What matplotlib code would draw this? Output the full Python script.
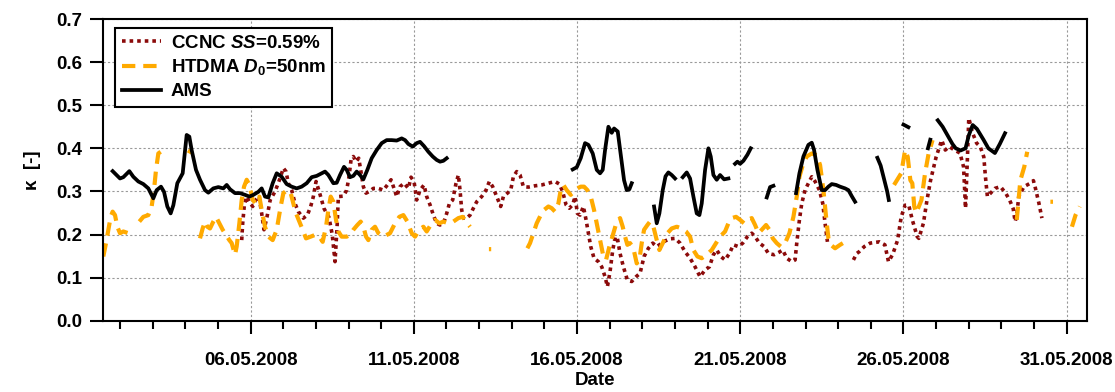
import numpy as np
import pandas as pd
import matplotlib
matplotlib.use("Agg")
import matplotlib.pyplot as plt
import matplotlib.dates as mdates

nan = np.nan

# day of May 2008 (fractional) and kappa values, nan = gap in the record
ccnc_day = [5.727, 5.757, 5.808, 5.88, 5.961, 6.063, 6.155, 6.257, 6.339, 6.41, 6.5, 6.6, 6.75, 6.9,
            7.003, 7.085, 7.156, 7.258, 7.36, 7.462, 7.616, 7.738, 7.84, 7.922, 8.004, 8.1, 8.25, 8.4,
            8.5, 8.586, 8.65, 8.688, 8.841, 8.943, 9.014, 9.076, 9.147, 9.229, 9.311, 9.372, 9.454,
            9.536, 9.638, 9.76, 9.913, 10.067, 10.189, 10.301, 10.393, 10.475, 10.577, 10.7, 10.833,
            10.914, 11.006, 11.088, 11.19, 11.313, 11.394, 11.496, 11.598, 11.7, 11.803, 11.925,
            12.007, 12.089, 12.19, 12.293, 12.364, 12.415, 12.466, 12.518, 12.62, 12.722, 12.824,
            12.926, 13.079, 13.212, 13.314, 13.416, 13.539, 13.661, 13.743, 13.866, 13.968, 14.049,
            14.152, 14.254, 14.356, 14.509, 14.713, 14.917, 15.122, 15.326, 15.459, 15.561, 15.663,
            15.765, 15.867, 15.938, 16.01, 16.092, 16.194, 16.276, 16.347, 16.419, 16.52, 16.653,
            16.756, 16.858, 16.93, 17.011, 17.093, 17.174, 17.236, 17.317, 17.42, 17.542, 17.675,
            17.808, 17.93, 18.053, 18.185, 18.319, 18.441, 18.563, 18.696, 18.849, 19.002, 19.156,
            19.309, 19.462, 19.615, 19.768, 19.922, 20.054, 20.177, 20.279, 20.402, 20.534, 20.667,
            20.79, 20.943, 21.076, 21.218, 21.351, 21.454, 21.586, 21.729, 21.862, 22.035, 22.168,
            22.301, 22.424, 22.577, 22.679, 22.73, 22.812, 22.883, 22.985, 23.087, 23.19, 23.292,
            23.424, 23.527, 23.598, 23.67, 24.0, 24.466, 24.568, 24.64, 24.8, 24.98, 25.26, 25.43,
            25.54, 25.67, 25.82, 25.93, 26.05, 26.16, 26.27, 26.42, 26.47, 26.61, 26.72, 26.83, 27.0,
            27.17, 27.28, 27.4, 27.56, 27.73, 27.84, 27.9, 27.95, 28.0, 28.12, 28.24, 28.35, 28.46,
            28.51, 28.57, 28.8, 28.97, 29.13, 29.25, 29.36, 29.42, 29.47, 29.53, 29.69, 29.86, 29.98,
            30.03, 30.15, 30.24]
ccnc_kappa = [0.187, 0.226, 0.268, 0.288, 0.276, 0.265, 0.280, 0.288, 0.249, 0.211, 0.24, 0.28, 0.30, 0.33,
              0.354, 0.346, 0.319, 0.303, 0.272, 0.253, 0.238, 0.245, 0.265, 0.288, 0.323, 0.30, 0.26, 0.24,
              0.20, 0.137, 0.22, 0.288, 0.289, 0.303, 0.334, 0.373, 0.381, 0.369, 0.377, 0.350, 0.311,
              0.296, 0.300, 0.307, 0.307, 0.303, 0.315, 0.327, 0.307, 0.288, 0.311, 0.319, 0.307,
              0.333, 0.323, 0.280, 0.303, 0.315, 0.288, 0.269, 0.245, 0.226, 0.222, 0.230,
              0.249, 0.272, 0.280, 0.319, 0.338, 0.303, 0.257, 0.238, 0.238, 0.245, 0.261,
              0.276, 0.288, 0.303, 0.323, 0.311, 0.288, 0.265, 0.288, 0.296, 0.303, 0.334,
              0.346, 0.338, 0.311, 0.310, 0.313, 0.315, 0.319, 0.323, 0.317, 0.299, 0.269,
              0.261, 0.269, 0.288, 0.249, 0.245, 0.265, 0.234, 0.203, 0.172, 0.145, 0.137,
              0.125, 0.102, 0.079, 0.114, 0.164, 0.195, 0.191, 0.156, 0.125, 0.094, 0.091,
              0.102, 0.110, 0.149, 0.168, 0.180, 0.172, 0.178, 0.185, 0.190, 0.191, 0.180,
              0.160, 0.145, 0.125, 0.102, 0.118, 0.125, 0.153, 0.164, 0.149, 0.141, 0.156,
              0.176, 0.172, 0.180, 0.195, 0.203, 0.195, 0.180, 0.172, 0.156, 0.153, 0.158,
              0.164, 0.145, 0.137, 0.141, 0.180, 0.234, 0.272, 0.303, 0.319, 0.334, 0.323,
              0.303, 0.272, 0.226, 0.183, nan, 0.141, 0.156, 0.160, 0.172, 0.180, 0.183, 0.176,
              0.137, 0.154, 0.187, 0.241, 0.268, 0.268, 0.234, 0.195, 0.191, 0.226, 0.280, 0.326, 0.380,
              0.419, 0.396, 0.404, 0.396, 0.389, 0.357, 0.261, 0.36, 0.47, 0.435, 0.412, 0.404, 0.380,
              0.334, 0.288, 0.307, 0.311, 0.296, 0.280, 0.26, 0.23, 0.245, 0.288, 0.311, 0.318, 0.325,
              0.311, 0.272, 0.238]

htdma_day = [1.488, 1.57, 1.641, 1.713, 1.774, 1.846, 1.917, 1.999, 2.101, 2.254, 2.305, 2.45, 2.591,
             2.714, 2.867, 2.969, 3.04, 3.102, 3.173, 3.245, 3.306, 3.7, 4.08, 4.2, 4.3, 4.45, 4.531,
             4.603, 4.674, 4.756, 4.858, 4.94, 5.042, 5.144, 5.246, 5.348, 5.42, 5.522, 5.573, 5.655,
             5.727, 5.798, 5.88, 5.961, 6.063, 6.165, 6.268, 6.339, 6.441, 6.543, 6.676, 6.799, 6.921,
             7.003, 7.125, 7.228, 7.309, 7.391, 7.493, 7.595, 7.697, 7.84, 7.973, 8.106, 8.208, 8.31,
             8.382, 8.453, 8.535, 8.616, 8.688, 8.79, 8.943, 9.045, 9.147, 9.27, 9.372, 9.454, 9.536,
             9.607, 9.709, 9.811, 9.913, 10.067, 10.271, 10.424, 10.557, 10.679, 10.802, 10.935,
             11.037, 11.169, 11.292, 11.394, 11.547, 11.65, 11.782, 11.905, 12.058, 12.211, 12.364,
             12.497, 12.599, 12.722, 13.0, 13.30, 13.37, 14.0, 14.478, 14.56, 14.662, 14.764, 14.887,
             14.989, 15.122, 15.224, 15.326, 15.428, 15.5, 15.581, 15.683, 15.806, 15.908, 16.01,
             16.112, 16.214, 16.317, 16.419, 16.52, 16.623, 16.725, 16.807, 16.888, 16.99, 17.113,
             17.216, 17.317, 17.399, 17.471, 17.542, 17.624, 17.726, 17.828, 17.91, 17.981, 18.053,
             18.155, 18.236, 18.339, 18.441, 18.522, 18.645, 18.768, 18.9, 19.054, 19.207, 19.339,
             19.462, 19.564, 19.687, 19.819, 19.972, 20.126, 20.258, 20.381, 20.534, 20.636, 20.739,
             20.871, 20.994, 21.117, 21.218, 21.351, 21.454, 21.556, 21.658, 21.79, 21.893, 21.995,
             22.117, 22.24, 22.372, 22.505, 22.628, 22.73, 22.812, 22.914, 23.036, 23.19, 23.343,
             23.445, 23.547, 23.628, 23.7, 23.772, 23.904, 24.057, 24.21, 25.0, 25.71, 25.93, 26.05,
             26.13, 26.21, 26.27, 26.33, 26.39, 26.55, 26.66, 26.77, 26.89, 28.0, 29.47, 29.58, 29.7,
             29.79, 30.2, 30.5, 30.58, 30.9, 31.16, 31.27, 31.4]
htdma_kappa = [0.149, 0.18, 0.211, 0.241, 0.253, 0.245, 0.218, 0.203, 0.207, 0.203, 0.204, nan, 0.230,
               0.241, 0.245, 0.265, 0.303, 0.350, 0.388, 0.392, 0.381, nan, 0.395, 0.39, nan, 0.191, 0.214,
               0.230, 0.218, 0.214, 0.230, 0.241, 0.226, 0.211, 0.199, 0.187, 0.180, 0.153, 0.172, 0.226,
               0.280, 0.311, 0.327, 0.315, 0.280, 0.272, 0.288, 0.257, 0.218, 0.195, 0.187, 0.211, 0.265,
               0.296, 0.303, 0.296, 0.272, 0.249, 0.230, 0.211, 0.191, 0.195, 0.199, 0.195, 0.183, 0.218,
               0.257, 0.288, 0.276, 0.234, 0.207, 0.195, 0.195, 0.199, 0.211, 0.222, 0.230, 0.218, 0.195,
               0.187, 0.211, 0.218, 0.203, 0.195, 0.203, 0.226, 0.241, 0.245, 0.230, 0.203,
               0.195, 0.211, 0.218, 0.207, 0.226, 0.234, 0.226, 0.230, 0.226, 0.230, 0.238,
               0.241, 0.230, 0.218, nan, 0.166, 0.166, nan, 0.168, 0.180, 0.203, 0.226, 0.245,
               0.257, 0.265, 0.261, 0.253, 0.272, 0.303, 0.315, 0.303, 0.292, 0.300, 0.307,
               0.311, 0.311, 0.303, 0.288, 0.257, 0.218, 0.180, 0.149, 0.141, 0.172, 0.203,
               0.230, 0.238, 0.218, 0.195, 0.176, 0.180, 0.168, 0.133, 0.141, 0.180, 0.211,
               0.222, 0.230, 0.218, 0.187, 0.164, 0.183, 0.203, 0.214, 0.218, 0.214, 0.207,
               0.195, 0.164, 0.149, 0.145, 0.153, 0.164, 0.180, 0.195, 0.207, 0.226, 0.238,
               0.241, 0.234, 0.226, 0.234, 0.238, 0.222, 0.203, 0.211, 0.222, 0.211, 0.191,
               0.180, 0.172, 0.180, 0.203, 0.241, 0.288, 0.334, 0.361, 0.381, 0.388, 0.384,
               0.361, 0.303, 0.241, 0.191, 0.176, 0.168, 0.176, 0.183, nan, 0.315, 0.342, 0.396,
               0.380, 0.326, 0.319, 0.265, 0.250, 0.280, 0.342, 0.388, 0.419, nan, 0.234, 0.326, 0.357,
               0.392, nan, 0.276, 0.276, nan, 0.218, 0.245, 0.265]

ams_day = [1.774, 1.999, 2.101, 2.285, 2.407, 2.560, 2.714, 2.867, 3.020, 3.122, 3.255, 3.347, 3.449,
           3.551, 3.633, 3.755, 3.919, 4.041, 4.123, 4.194, 4.327, 4.450, 4.603, 4.705, 4.858, 5.012,
           5.165, 5.267, 5.369, 5.522, 5.675, 5.829, 5.961, 6.084, 6.237, 6.339, 6.441, 6.543, 6.676,
           6.799, 6.952, 7.105, 7.258, 7.411, 7.564, 7.718, 7.871, 8.024, 8.177, 8.279, 8.382, 8.535,
           8.637, 8.739, 8.861, 8.943, 9.045, 9.147, 9.250, 9.352, 9.454, 9.576, 9.709, 9.862, 10.016,
           10.169, 10.322, 10.475, 10.628, 10.731, 10.833, 10.965, 11.088, 11.190, 11.313, 11.445,
           11.578, 11.701, 11.803, 11.905, 12.007, 14.0, 15.867, 15.99, 16.112, 16.245, 16.347, 16.48,
           16.603, 16.705, 16.786, 16.858, 16.96, 17.062, 17.134, 17.246, 17.338, 17.44, 17.522,
           17.603, 17.675, 18.0, 18.359, 18.441, 18.522, 18.625, 18.71, 18.798, 18.9, 19.002, 19.1,
           19.237, 19.36, 19.462, 19.564, 19.666, 19.748, 19.819, 19.922, 20.024, 20.095, 20.177,
           20.279, 20.381, 20.504, 20.636, 20.75, 20.84, 20.912, 20.994, 21.096, 21.218, 21.321, 21.6,
           21.811, 21.913, 22.015, 22.4, 22.709, 22.812, 22.934, 23.087, 23.19, 23.261, 23.363, 23.496,
           23.598, 23.7, 23.802, 23.935, 24.057, 24.21, 24.313, 24.415, 24.517, 25.0, 25.2, 25.3, 25.4,
           25.5, 25.55, 25.8, 26.0, 26.15, 26.4, 26.75, 26.82, 26.95, 27.05, 27.2, 27.35, 27.5, 27.6,
           27.75, 27.9, 28.0, 28.12, 28.25, 28.45, 28.6, 28.8, 28.95, 29.11]
ams_kappa = [0.347, 0.330, 0.333, 0.347, 0.334, 0.323, 0.317, 0.307, 0.284, 0.303, 0.311, 0.299, 0.265,
             0.249, 0.268, 0.319, 0.342, 0.431, 0.427, 0.396, 0.350, 0.327, 0.303, 0.297, 0.307, 0.310,
             0.307, 0.315, 0.305, 0.296, 0.296, 0.292, 0.288, 0.292, 0.299, 0.307, 0.288, 0.286, 0.319,
             0.342, 0.334, 0.317, 0.311, 0.307, 0.311, 0.319, 0.333, 0.336, 0.342, 0.346, 0.338, 0.319,
             0.320, 0.338, 0.357, 0.350, 0.333, 0.336, 0.346, 0.338, 0.328, 0.350, 0.377, 0.396, 0.412,
             0.419, 0.419, 0.418, 0.423, 0.419, 0.410, 0.404, 0.412, 0.415, 0.405, 0.392,
             0.381, 0.373, 0.369, 0.371, 0.377, nan, 0.351, 0.356, 0.377, 0.412, 0.408, 0.388,
             0.350, 0.342, 0.350, 0.396, 0.450, 0.436, 0.446, 0.439, 0.385, 0.326, 0.303,
             0.305, 0.319, nan, 0.265, 0.226, 0.249, 0.303, 0.335, 0.344, 0.338, 0.330, nan,
             0.333, 0.344, 0.330, 0.288, 0.249, 0.245, 0.272, 0.350, 0.400, 0.381, 0.338,
             0.327, 0.338, 0.328, 0.330, nan, 0.364, 0.369, 0.364, 0.371, 0.385, 0.400, nan,
             0.286, 0.310, 0.313, nan, 0.296, 0.342, 0.381, 0.408, 0.413, 0.396, 0.350, 0.303,
             0.303, 0.311, 0.317, 0.315, 0.311, 0.307, 0.303, 0.289, 0.276, nan, 0.378, 0.36, 0.33,
             0.30, 0.28, nan, 0.455, 0.449, nan, 0.40, 0.42, nan, 0.465, 0.45, 0.43, 0.41, 0.40,
             0.395, 0.40, 0.43, 0.454, 0.445, 0.42, 0.40, 0.389, 0.41, 0.435]


def to_dates(days):
    return pd.Timestamp("2008-05-01") + pd.to_timedelta(np.array(days) - 1, unit="D")


plt.rcParams["font.family"] = "Liberation Sans"
plt.rcParams["font.weight"] = "bold"
plt.rcParams["font.size"] = 13.5
plt.rcParams["mathtext.fontset"] = "custom"
plt.rcParams["mathtext.rm"] = "Liberation Sans:bold"
plt.rcParams["mathtext.it"] = "Liberation Sans:bold:italic"

fig = plt.figure(figsize=(11.15, 3.92), dpi=100)
ax = fig.add_axes([0.0921, 0.1819, 0.8831, 0.7696])

ax.plot(to_dates(ccnc_day), ccnc_kappa, color="#8b0a0a", lw=2.6, ls=(0, (1, 1.1)),
        label="CCNC $SS$=0.59%")
ax.plot(to_dates(htdma_day), htdma_kappa, color="#ffaa00", lw=3.0, ls=(0, (3.2, 1.9)),
        label="HTDMA $D_{\\mathit{0}}$=50nm")
ax.plot(to_dates(ams_day), ams_kappa, color="black", lw=2.7, label="AMS")

ax.set_xlim(pd.Timestamp("2008-05-01 11:15"), pd.Timestamp("2008-05-31 15:10"))
ax.set_ylim(0, 0.7)
ax.set_yticks(np.arange(0, 0.71, 0.1))
ax.yaxis.set_major_formatter(plt.FormatStrFormatter("%.1f"))

ax.xaxis.set_major_locator(mdates.DayLocator(bymonthday=[6, 11, 16, 21, 26, 31]))
ax.xaxis.set_minor_locator(mdates.DayLocator())
ax.xaxis.set_major_formatter(mdates.DateFormatter("%d.%m.%Y"))

ax.grid(True, which="major", color="#999999", lw=0.8, ls=(0, (2, 2)))
for s in ax.spines.values():
    s.set_linewidth(1.5)
ax.tick_params(which="major", direction="out", length=9.5, width=1.5, pad=5)
ax.tick_params(which="minor", direction="out", length=5.5, width=1.5)
ax.tick_params(axis="x", which="major", pad=13)

ax.set_xlabel("Date", fontweight="bold", labelpad=2)
ax.set_ylabel("κ  [-]", fontweight="bold", labelpad=11)

leg = ax.legend(loc="upper left", bbox_to_anchor=(0.013, 0.97), borderaxespad=0,
                fancybox=False, edgecolor="black", framealpha=1, handlelength=2.1,
                labelspacing=0.3, handletextpad=0.5, borderpad=0.35)
leg.get_frame().set_linewidth(1.5)

fig.savefig("out.png", dpi=100)
